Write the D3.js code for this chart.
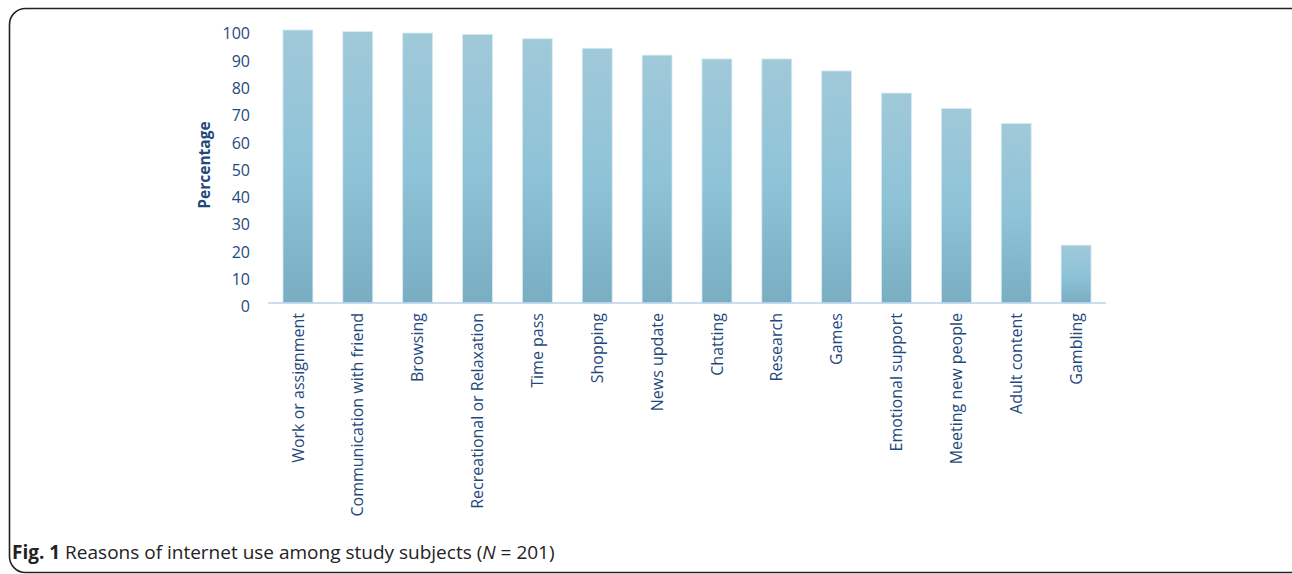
<!DOCTYPE html>
<html>
<head>
<meta charset="utf-8">
<script src="https://cdn.jsdelivr.net/npm/d3@7"></script>
<style>
  html, body { margin: 0; padding: 0; background: #fff; }
  svg { display: block; }
</style>
</head>
<body>
<svg id="chart" width="1292" height="574"></svg>
<script>
const categories = [
  "Work or assignment", "Communication with friend", "Browsing",
  "Recreational or Relaxation", "Time pass", "Shopping", "News update",
  "Chatting", "Research", "Games", "Emotional support",
  "Meeting new people", "Adult content", "Gambling"
];
const percentages = [100, 99.4, 98.9, 98.4, 96.8, 93.3, 90.8, 89.4, 89.4, 85.0, 76.9, 71.3, 65.8, 21.2];
const yTicks = [0, 10, 20, 30, 40, 50, 60, 70, 80, 90, 100];
const yTitle = "Percentage";
const captionBold = "Fig. 1";
const captionText = " Reasons of internet use among study subjects (";
const captionItalic = "N";
const captionEnd = " = 201)";

const svg = d3.select("#chart");
const textColor = "#1f497d";
const font = "'Open Sans', sans-serif";

// frame
svg.append("rect")
  .attr("x", 9.5).attr("y", 8.5)
  .attr("width", 1300).attr("height", 564)
  .attr("rx", 16).attr("ry", 16)
  .attr("fill", "none").attr("stroke", "#222").attr("stroke-width", 1.6);

const defs = svg.append("defs");
const grad = defs.append("linearGradient").attr("id", "barGrad")
  .attr("x1", 0).attr("y1", 0).attr("x2", 0).attr("y2", 1);
grad.append("stop").attr("offset", "0%").attr("stop-color", "#a0c9d9");
grad.append("stop").attr("offset", "50%").attr("stop-color", "#8fc3d7");
grad.append("stop").attr("offset", "100%").attr("stop-color", "#79adc2");

const x = d3.scaleBand().domain(categories).range([268, 1106]).paddingInner(0.5).paddingOuter(0.25);
const y = d3.scaleLinear().domain([0, 100]).range([303, 30]);

// bars
svg.append("g").selectAll("rect").data(categories).join("rect")
  .attr("x", d => x(d))
  .attr("y", (d, i) => y(percentages[i]))
  .attr("width", x.bandwidth())
  .attr("height", (d, i) => y(0) - y(percentages[i]))
  .attr("fill", "url(#barGrad)")
  .attr("stroke", "#d6ebf3").attr("stroke-width", 0.8);

// x axis
const xAxis = svg.append("g").attr("transform", `translate(0,${y(0)})`)
  .call(d3.axisBottom(x).tickSize(0).tickPadding(0));
xAxis.select(".domain").attr("stroke", "#b9d2ec").attr("stroke-width", 1.5)
  .attr("d", "M268,0H1106");
xAxis.selectAll(".tick text")
  .attr("transform", "rotate(-90)")
  .attr("text-anchor", "end")
  .attr("x", -10).attr("y", 0).attr("dy", "0.35em")
  .attr("fill", textColor)
  .style("font-family", font).style("font-size", "16px");

// y axis
const yAxis = svg.append("g").attr("transform", "translate(250,0)")
  .call(d3.axisLeft(y).tickValues(yTicks).tickSize(0).tickPadding(0));
yAxis.select(".domain").remove();
yAxis.selectAll(".tick text")
  .attr("dy", "0.55em")
  .attr("fill", textColor)
  .style("font-family", font).style("font-size", "16px");

// y title
svg.append("text")
  .attr("transform", "translate(210,165) rotate(-90)")
  .attr("text-anchor", "middle")
  .attr("fill", textColor)
  .style("font-family", font).style("font-size", "15.5px").style("font-weight", "bold")
  .text(yTitle);

// caption
const cap = svg.append("text")
  .attr("x", 12).attr("y", 559)
  .attr("fill", "#222")
  .style("font-family", font).style("font-size", "19px");
cap.append("tspan").style("font-weight", "bold").text(captionBold);
cap.append("tspan").text(captionText);
cap.append("tspan").style("font-style", "italic").text(captionItalic);
cap.append("tspan").text(captionEnd);
</script>
</body>
</html>
